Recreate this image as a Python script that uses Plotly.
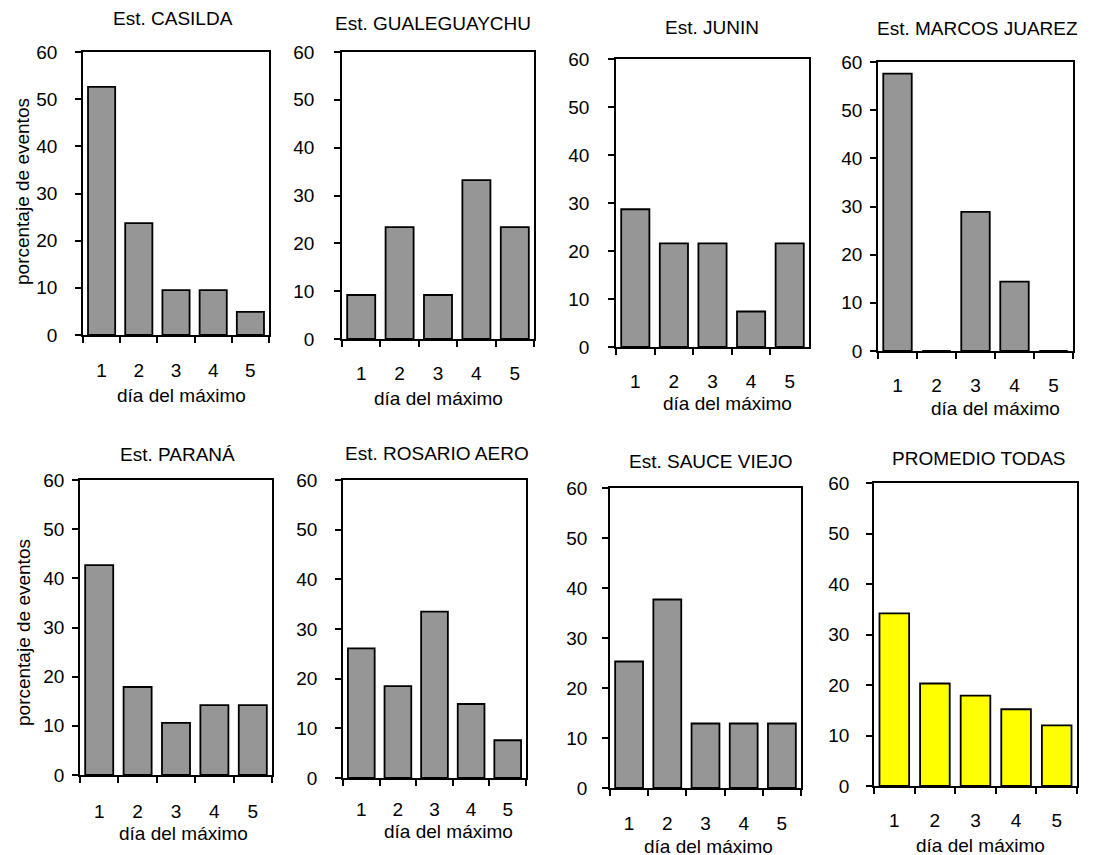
import plotly.graph_objects as go

W, H = 1094, 855
OFF = 8  # page body margin offset compensation

days = ["1", "2", "3", "4", "5"]
casilda = [52.6, 23.7, 9.5, 9.5, 4.9]
gualeguaychu = [9.2, 23.4, 9.2, 33.2, 23.4]
junin = [28.7, 21.6, 21.6, 7.4, 21.6]
marcos_juarez = [57.6, 0, 28.9, 14.4, 0]
parana = [42.7, 17.9, 10.6, 14.2, 14.2]
rosario_aero = [26.1, 18.5, 33.5, 14.9, 7.6]
sauce_viejo = [25.3, 37.7, 12.9, 12.9, 12.9]
promedio = [34.2, 20.3, 17.9, 15.2, 12.0]

titles = ["Est. CASILDA", "Est. GUALEGUAYCHU", "Est. JUNIN", "Est. MARCOS JUAREZ",
          "Est. PARANÁ", "Est. ROSARIO AERO", "Est. SAUCE VIEJO", "PROMEDIO TODAS"]
series = [casilda, gualeguaychu, junin, marcos_juarez,
          parana, rosario_aero, sauce_viejo, promedio]
colors = ["#969696"] * 7 + ["#FFFF00"]
xlabel = "día del máximo"
ylabel = "porcentaje de eventos"

# panel geometry in pixels: left, right, top, bottom
boxes = [
    (83, 269, 52, 335), (342, 534, 52, 339), (616, 809, 59, 347), (878, 1073, 62, 351),
    (80, 272, 480, 775), (343, 526, 480, 778), (610, 801, 488, 788), (874, 1077, 483, 786),
]
title_pos = [(173, 18), (433, 23), (712, 27), (977, 29),
             (177, 455), (437, 453), (711, 462), (979, 458)]
xlab_pos = [(181, 395), (438, 398), (727, 403), (995, 408),
            (183, 833), (448, 831), (708, 846), (980, 845)]
xtick_off = [36, 35, 35, 35, 37, 32, 36, 35]
ytick_gap = [23, 25, 24, 13, 13, 23, 20, 22]
ylab_pos = [(23, 192), (23, 633)]

FONT = "Liberation Sans, Arial, sans-serif"
fs = 19


def px_x(x):
    return (x - OFF) / W


def px_y(y):
    return 1 - (y - OFF) / H


fig = go.Figure()
layout = dict(
    width=W, height=H, margin=dict(l=0, r=0, t=0, b=0, pad=0, autoexpand=False),
    paper_bgcolor="white", plot_bgcolor="white", showlegend=False,
    bargap=0.27, font=dict(family=FONT, size=fs, color="black"),
)
annotations = []
for i, (vals, col) in enumerate(zip(series, colors)):
    n = i + 1
    xa = "x" if n == 1 else f"x{n}"
    ya = "y" if n == 1 else f"y{n}"
    fig.add_trace(go.Bar(x=days, y=vals, xaxis=xa, yaxis=ya,
                         marker=dict(color=col, line=dict(color="black", width=1.8)),
                         hoverinfo="x+y"))
    l, r, t, b = boxes[i]
    xkey = "xaxis" if n == 1 else f"xaxis{n}"
    ykey = "yaxis" if n == 1 else f"yaxis{n}"
    layout[xkey] = dict(
        domain=[px_x(l), px_x(r)], anchor=ya, type="category",
        showline=True, linecolor="black", linewidth=1.6, mirror=True,
        ticks="outside", tickson="boundaries", ticklen=6, tickwidth=1.6, tickcolor="black",
        showgrid=False, zeroline=False, automargin=False,
        tickfont=dict(family=FONT, size=fs, color="black"),
        ticklabelstandoff=max(0, xtick_off[i] - 19),
    )
    layout[ykey] = dict(
        domain=[px_y(b), px_y(t)], anchor=xa, range=[0, 60],
        tickvals=[0, 10, 20, 30, 40, 50, 60],
        showline=True, linecolor="black", linewidth=1.6, mirror=True,
        ticks="outside", ticklen=6, tickwidth=1.6, tickcolor="black",
        showgrid=False, zeroline=False, automargin=False,
        tickfont=dict(family=FONT, size=fs, color="black"),
        ticklabelstandoff=max(0, ytick_gap[i] - 9),
    )
    tx, ty = title_pos[i]
    annotations.append(dict(text=titles[i], x=px_x(tx), y=px_y(ty), xref="paper", yref="paper",
                            xanchor="center", yanchor="middle", showarrow=False,
                            font=dict(family=FONT, size=fs, color="black")))
    lx, ly = xlab_pos[i]
    annotations.append(dict(text=xlabel, x=px_x(lx), y=px_y(ly), xref="paper", yref="paper",
                            xanchor="center", yanchor="middle", showarrow=False,
                            font=dict(family=FONT, size=fs, color="black")))

for (px, py) in ylab_pos:
    annotations.append(dict(text=ylabel, x=px_x(px), y=px_y(py), xref="paper", yref="paper",
                            xanchor="center", yanchor="middle", showarrow=False, textangle=-90,
                            font=dict(family=FONT, size=fs, color="black")))

layout["annotations"] = annotations
fig.update_layout(**layout)
fig.write_html("out.html")
